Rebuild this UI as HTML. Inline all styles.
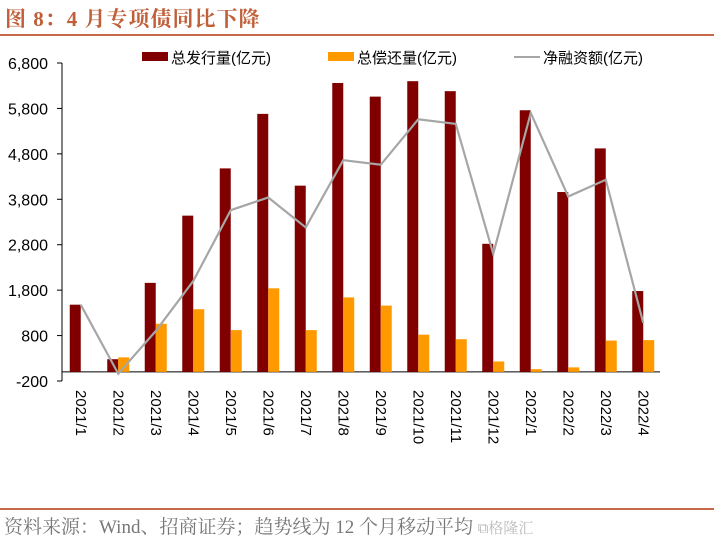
<!DOCTYPE html>
<html><head><meta charset="utf-8"><style>
body{margin:0;background:#fff;width:714px;height:544px;overflow:hidden;font-family:"Liberation Sans","Noto Sans CJK SC",sans-serif}
.t{position:absolute;left:5px;top:3px;font-family:"Liberation Serif","Noto Serif CJK SC",serif;font-size:21px;font-weight:bold;color:#c0603a;letter-spacing:1px}
.hr{position:absolute;left:0;width:714px;height:2px;background:#c8694a}
.f{position:absolute;left:4px;top:512px;font-family:"Liberation Serif","Noto Serif CJK SC",serif;font-size:19px;color:#777}
</style></head><body>
<div class="t">图 8：4 月专项债同比下降</div>
<div class="hr" style="top:34px"></div>
<div class="hr" style="top:508px"></div>
<div class="f">资料来源：Wind、招商证券；趋势线为 12 个月移动平均 <span style="color:#bbb;font-size:15px">⧉格隆汇</span></div>
<svg id="c" width="714" height="544" style="position:absolute;left:0;top:0"></svg>
<script>
const categories=["2021/1","2021/2","2021/3","2021/4","2021/5","2021/6","2021/7","2021/8","2021/9","2021/10","2021/11","2021/12","2022/1","2022/2","2022/3","2022/4"];
const issuance=[1480,280,1960,3440,4480,5680,4100,6360,6060,6400,6180,2820,5760,3960,4920,1780];
const repayment=[0,320,1060,1380,920,1840,920,1640,1460,820,720,230,60,100,690,700];
const netFinancing=[1480,-40,900,2000,3560,3840,3180,4660,4560,5560,5460,2600,5700,3860,4230,1080];
const yTicks=[-200,800,1800,2800,3800,4800,5800,6800];
const NS="http://www.w3.org/2000/svg",svg=document.getElementById('c');
const plotTop=63,plotBot=381,yMin=-200,yMax=6800,x0=62,step=37.5;
const y=v=>plotBot-(v-yMin)/(yMax-yMin)*(plotBot-plotTop);
const x=i=>x0+step*(i+0.5);
function mk(t,a){const e=document.createElementNS(NS,t);for(const k in a)e.setAttribute(k,a[k]);svg.appendChild(e);return e;}
let e=mk('line',{x1:x0,y1:plotTop,x2:x0,y2:plotBot,stroke:'#000'});

yTicks.forEach(v=>{
 const l=mk('line',{x1:x0-5,x2:x0,y1:y(v),y2:y(v),stroke:'#000'});
 
 const t=mk('text',{x:x0-14,y:y(v)+6,'text-anchor':'end','font-size':16,fill:'#000'});
 t.textContent=v.toLocaleString('en-US');
 
});
e=mk('line',{x1:x0,y1:y(0),x2:660,y2:y(0),stroke:'#000'});

const bw=11;
categories.forEach((c,i)=>{
 const cx=x(i);
 let b=mk('rect',{x:cx-bw,y:Math.min(y(issuance[i]),y(0)),width:bw,height:Math.abs(y(0)-y(issuance[i])),fill:'#800000'});
 
 b=mk('rect',{x:cx,y:Math.min(y(repayment[i]),y(0)),width:bw,height:Math.abs(y(0)-y(repayment[i])),fill:'#ff9900'});
 
 const t=mk('text',{x:0,y:0,'font-size':15,fill:'#000',transform:`translate(${cx-5},390) rotate(90)`});
 t.textContent=c;
 
});
e=mk('polyline',{points:netFinancing.map((v,i)=>x(i)+','+y(v)).join(' '),fill:'none',stroke:'#a6a6a6','stroke-width':2.2});

const legend=[["rect","#800000","总发行量(亿元)",142],["rect","#ff9900","总偿还量(亿元)",328],["line","#a6a6a6","净融资额(亿元)",514]];
legend.forEach(([k,col,lab,lx])=>{
 let m=k==='rect'?mk('rect',{x:lx,y:52,width:26,height:9,fill:col}):mk('line',{x1:lx,x2:lx+26,y1:57,y2:57,stroke:col,'stroke-width':2});
 
 const t=mk('text',{x:lx+29,y:63,'font-size':15,fill:'#000'});t.textContent=lab;
 
});
</script>
</body></html>
